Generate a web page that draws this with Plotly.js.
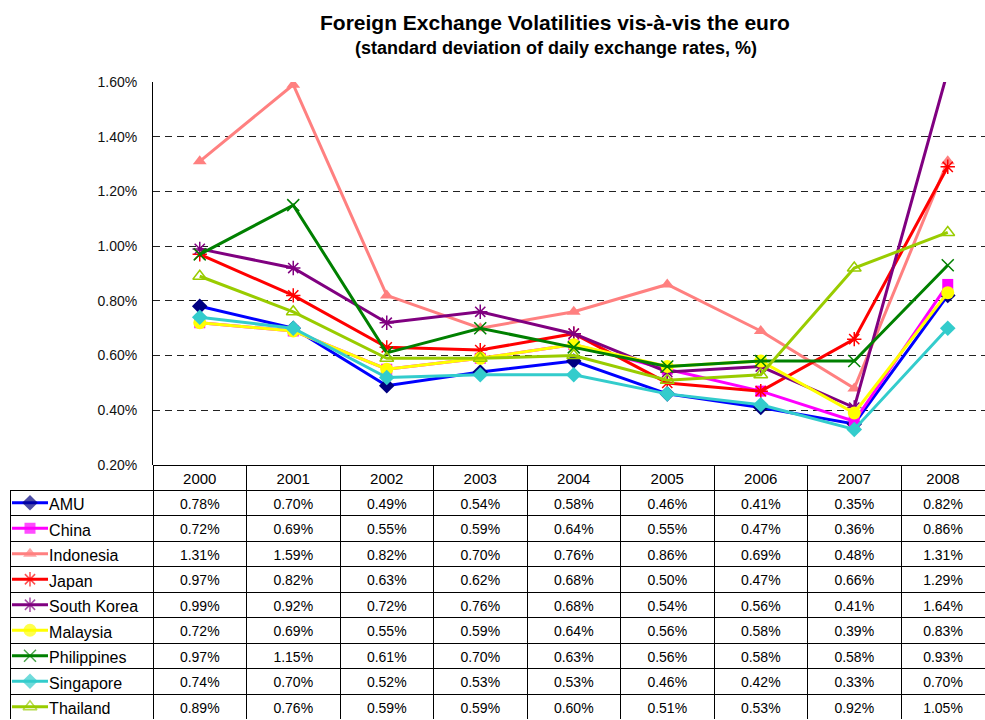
<!DOCTYPE html>
<html>
<head>
<meta charset="utf-8">
<script src="https://cdn.plot.ly/plotly-3.0.1.min.js"></script>
<style>html,body{margin:0;padding:0;overflow:hidden;background:#fff;}#chart{width:985px;height:720px;}</style>
</head>
<body>
<div id="chart"></div>
<script>
const years = ['2000','2001','2002','2003','2004','2005','2006','2007','2008'];
const seriesNames = ['AMU','China','Indonesia','Japan','South Korea','Malaysia','Philippines','Singapore','Thailand'];
const amu         = [0.78,0.70,0.49,0.54,0.58,0.46,0.41,0.35,0.82];
const china       = [0.72,0.69,0.55,0.59,0.64,0.55,0.47,0.36,0.86];
const indonesia   = [1.31,1.59,0.82,0.70,0.76,0.86,0.69,0.48,1.31];
const japan       = [0.97,0.82,0.63,0.62,0.68,0.50,0.47,0.66,1.29];
const southKorea  = [0.99,0.92,0.72,0.76,0.68,0.54,0.56,0.41,1.64];
const malaysia    = [0.72,0.69,0.55,0.59,0.64,0.56,0.58,0.39,0.83];
const philippines = [0.97,1.15,0.61,0.70,0.63,0.56,0.58,0.58,0.93];
const singapore   = [0.74,0.70,0.52,0.53,0.53,0.46,0.42,0.33,0.70];
const thailand    = [0.89,0.76,0.59,0.59,0.60,0.51,0.53,0.92,1.05];
const yTicks = [0.2,0.4,0.6,0.8,1.0,1.2,1.4,1.6];

const allSeries = [amu,china,indonesia,japan,southKorea,malaysia,philippines,singapore,thailand];
const styles = [
  {line:'#0000FF', mk:'#000080', sym:'diamond', size:12, mlw:0},
  {line:'#FF00FF', mk:'#FF00FF', sym:'square', size:11, mlw:0},
  {line:'#FF8080', mk:'#FF8080', sym:'triangle-up', size:12, mlw:0},
  {line:'#FF0000', mk:'#FF0000', sym:'asterisk-open', size:12, mlw:1.5},
  {line:'#800080', mk:'#800080', sym:'asterisk-open', size:12, mlw:1.5},
  {line:'#FFFF00', mk:'#FFFF00', sym:'circle', size:13, mlw:0},
  {line:'#008000', mk:'#008000', sym:'x-thin-open', size:12, mlw:1.5},
  {line:'#33CCCC', mk:'#33CCCC', sym:'diamond', size:12, mlw:0},
  {line:'#99CC00', mk:'#99CC00', sym:'triangle-up-open', size:12, mlw:1.5}
];

const W = 985, H = 720;
const plotLeft = 153, plotTop = 82, plotBottom = 465, colW = 93.5;
const headerH = 25, rowH = 25.5, tableLeft = 10;
const FONT = 'Liberation Sans, Arial, sans-serif';

const traces = [];
allSeries.forEach((s, i) => {
  const st = styles[i];
  traces.push({
    type:'scatter', mode:'lines+markers', x: years, y: s, name: seriesNames[i],
    xaxis:'x', yaxis:'y', showlegend:false, hoverinfo:'skip',
    line:{color: st.line, width:3},
    marker:{symbol: st.sym, size: st.size, color: st.mk, line:{color: st.mk, width: st.mlw}}
  });
});
// legend keys in the table's first column
allSeries.forEach((s, i) => {
  const st = styles[i];
  traces.push({
    type:'scatter', mode:'lines+markers', x:[0,1,2], y:[i,i,i],
    xaxis:'x2', yaxis:'y2', showlegend:false, hoverinfo:'skip', cliponaxis:false,
    line:{color: st.line, width:3},
    marker:{symbol: st.sym, size:[0, st.size, 0], color: st.mk, line:{color: st.mk, width: st.mlw}}
  });
});

const pad = '\u00a0'.repeat(7);
const nameCol = seriesNames.map(n => pad + n);
const valueCols = years.map((y, j) => allSeries.map(s => s[j].toFixed(2) + '%'));
const lastW = W - (plotLeft + 8*colW);
traces.push({
  type:'table',
  domain:{x:[tableLeft/W, 1], y:[0, 1 - plotBottom/H]},
  columnwidth:[plotLeft - tableLeft].concat(Array(8).fill(colW)).concat([lastW]),
  header:{
    values:[''].concat(years),
    height: headerH,
    align:'center',
    fill:{color:'rgba(0,0,0,0)'},
    line:{color:['rgba(0,0,0,0)'].concat(Array(9).fill('#000')), width:1},
    font:{family: FONT, size:15, color:'#000'}
  },
  cells:{
    values:[nameCol].concat(valueCols),
    height: rowH,
    align:['left'].concat(Array(9).fill('center')),
    fill:{color:'rgba(0,0,0,0)'},
    line:{color:'#000', width:1},
    font:{family: FONT, size:[16].concat(Array(9).fill(14)), color:'#000'}
  }
});

const layout = {
  width: W, height: H,
  margin:{l:0, r:0, t:0, b:0},
  paper_bgcolor:'#fff', plot_bgcolor:'rgba(0,0,0,0)',
  showlegend:false,
  xaxis:{
    type:'category', domain:[plotLeft/W, 1],
    range:[-0.5, -0.5 + (W - plotLeft)/colW],
    showticklabels:false, showgrid:false, zeroline:false, showline:false, ticks:'', fixedrange:true
  },
  yaxis:{
    domain:[1 - plotBottom/H, 1 - plotTop/H],
    range:[0.2, 1.6], tickvals: yTicks, ticktext: yTicks.map(v => v.toFixed(2) + '%'),
    showgrid:true, gridcolor:'#222', gridwidth:1, griddash:'7px,5px',
    zeroline:false, showline:true, linecolor:'#000', linewidth:1,
    ticks:'', ticklabelstandoff:12,
    tickfont:{family: FONT, size:14, color:'#111'}, fixedrange:true
  },
  xaxis2:{domain:[12/W, 48/W], range:[0,2], visible:false, fixedrange:true},
  yaxis2:{domain:[1 - (plotBottom + headerH + 9*rowH)/H, 1 - (plotBottom + headerH)/H], range:[8.5,-0.5], visible:false, fixedrange:true},
  annotations:[
    {text:'<b>Foreign Exchange Volatilities vis-à-vis the euro</b>', xref:'paper', yref:'paper',
     x:555/W, y:1 - 22/H, xanchor:'center', yanchor:'middle', showarrow:false,
     font:{family: FONT, size:21, color:'#000'}},
    {text:'<b>(standard deviation of daily exchange rates, %)</b>', xref:'paper', yref:'paper',
     x:556/W, y:1 - 48/H, xanchor:'center', yanchor:'middle', showarrow:false,
     font:{family: FONT, size:18, color:'#000'}}
  ]
};

Plotly.newPlot('chart', traces, layout, {staticPlot:true, displayModeBar:false});
</script>
</body>
</html>
